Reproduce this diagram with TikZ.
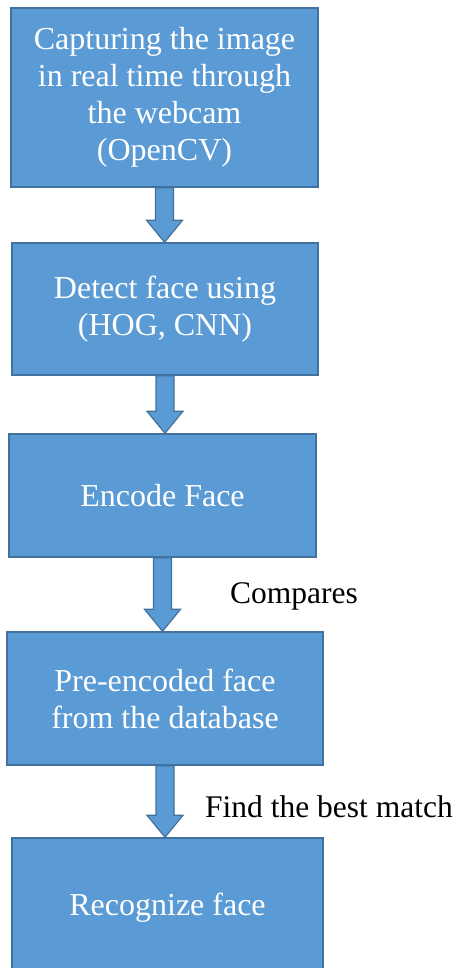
\documentclass[tikz,border=0pt]{standalone}
\usepackage{fontspec}
\newfontfamily\timesf{Liberation Serif}
\usetikzlibrary{calc}
\definecolor{boxfill}{HTML}{5B9BD5}
\definecolor{boxline}{HTML}{41719C}
\tikzset{
  stepbox/.style={draw=boxline, fill=boxfill, line width=1.5pt, rectangle,
    text=white, align=center, inner sep=0pt,
    font=\timesf\fontsize{32}{37}\selectfont},
  lbl/.style={anchor=west, text=black, inner sep=0pt,
    font=\timesf\fontsize{31.5}{37}\selectfont},
  blockarr/.style={draw=boxline, fill=boxfill, line width=1.2pt, line join=miter}
}
\newcommand{\blockarrow}[2]{%
  \path[blockarr] let \p1=(#1.south), \p2=(#2.north) in
    (\x1-9pt,\y1) -- (\x1-9pt,\y2+22pt) -- (\x1-18pt,\y2+22pt) -- (\x1,\y2)
    -- (\x1+18pt,\y2+22pt) -- (\x1+9pt,\y2+22pt) -- (\x1+9pt,\y1) -- cycle;}
\begin{document}
\begin{tikzpicture}[x=1pt,y=-1pt]
\useasboundingbox (0,0) rectangle (459,968);
\begin{scope}
\clip (0,0) rectangle (459,968);
\node[stepbox, minimum width=307pt, minimum height=179pt] (n1) at (164.5,97.5)
  {Capturing the image\\in real time through\\the webcam\\(OpenCV)};
\node[stepbox, minimum width=306pt, minimum height=132pt] (n2) at (165,309)
  {Detect face using\\(HOG, CNN)};
\node[stepbox, minimum width=307pt, minimum height=123pt] (n3) at (162.5,495.5)
  {Encode Face};
\node[stepbox, minimum width=316pt, minimum height=133pt] (n4) at (165,698.5)
  {Pre-encoded face\\from the database};
\node[stepbox, minimum width=311pt, minimum height=140pt] (n5) at (167.5,908)
  {Recognize face};
\blockarrow{n1}{n2}
\blockarrow{n2}{n3}
\blockarrow{n3}{n4}
\blockarrow{n4}{n5}
\node[lbl] (c1) at (230,596) {Compares};
\node[lbl] (c2) at (205,807) {Find the best match};
\end{scope}
\end{tikzpicture}
\end{document}
